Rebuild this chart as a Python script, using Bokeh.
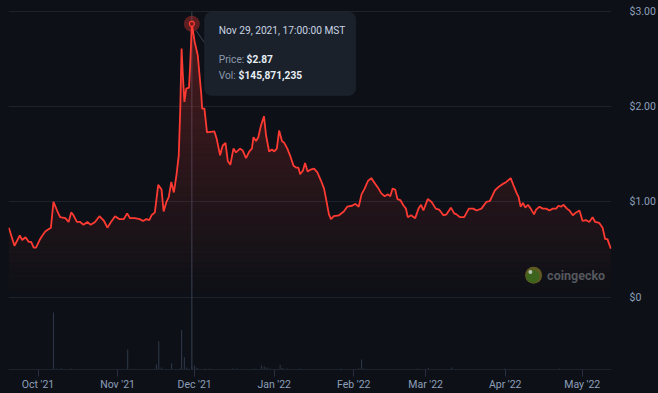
import numpy as np
import pandas as pd
from bokeh.plotting import figure
from bokeh.models import (Range1d, FixedTicker, DatetimeTickFormatter,
                          BoxAnnotation, Label)
from bokeh.embed import file_html
from bokeh.resources import INLINE

# ---------------- data ----------------
START = "2021-09-19 15:00"          # first daily close shown
price_days = [0, 2.2, 4.3, 5.2, 6.5, 7.8, 8.7, 9.7, 10.6, 12.0,
              12.9, 14.2, 15.9, 16.4, 17.4, 18.8, 20.0, 22.0, 23.3, 24.3,
              25.2, 26.5, 27.8, 29.1, 30.6, 31.9, 33.6, 35.3, 37.1, 38.4,
              39.8, 41.4, 43.0, 44.8, 46.1, 47.2, 49.1, 51.0, 52.3, 53.6,
              54.7, 55.6, 56.9, 58.2, 59.5, 60.3, 61.4, 62.3, 63.3, 64.3,
              65.3, 66.2, 66.8, 67.3, 67.8, 68.4, 69.1, 70.2, 70.7, 71.3,
              72.4, 73.6, 74.3, 75.0, 75.3, 76.2, 77.2, 80.1, 81.0, 82.3,
              83.3, 84.4, 85.3, 86.3, 87.5, 88.5, 90.1, 91.1, 92.4, 93.7,
              94.7, 95.3, 96.3, 97.2, 98.2, 99.4, 100.2, 101.4, 102.5, 103.4,
              104.4, 105.3, 106.4, 107.3, 108.5, 109.8, 110.9, 112.0, 112.8, 113.5,
              114.6, 115.4, 116.4, 117.6, 118.9, 120.2, 121.5, 122.8, 123.6, 124.7,
              125.5, 126.6, 128.6, 130.5, 131.8, 133.7, 135.0, 136.3, 137.4, 138.6,
              139.9, 141.2, 142.5, 143.8, 145.1, 146.4, 147.7, 148.6, 149.5, 150.5,
              151.4, 152.5, 153.8, 154.7, 155.4, 156.7, 158.3, 159.6, 160.6, 161.5,
              163.2, 164.7, 166.3, 167.6, 169.3, 170.5, 172.2, 173.5, 174.4, 175.7,
              177.4, 179.2, 180.9, 182.2, 184.1, 186.0, 187.4, 189.3, 190.9, 192.5,
              193.8, 195.5, 196.8, 197.7, 198.6, 199.4, 200.3, 201.2, 202.2, 203.3,
              204.6, 205.4, 206.7, 208.0, 209.3, 210.6, 211.9, 213.2, 214.1, 215.1,
              216.1, 217.4, 218.4, 219.7, 221.0, 222.3, 223.5, 224.8, 226.1, 227.4,
              228.4, 230.0, 231.3, 232.3, 233.2, 234.5]
prices = [0.73, 0.54, 0.65, 0.60, 0.63, 0.58, 0.58, 0.52, 0.52, 0.60,
          0.64, 0.69, 0.72, 0.73, 1.00, 0.91, 0.84, 0.83, 0.79, 0.89,
          0.86, 0.79, 0.79, 0.76, 0.79, 0.76, 0.79, 0.85, 0.80, 0.73,
          0.79, 0.85, 0.82, 0.82, 0.88, 0.83, 0.83, 0.82, 0.80, 0.82,
          0.81, 0.86, 0.89, 1.18, 1.13, 0.90, 1.00, 1.05, 1.21, 1.10,
          1.28, 1.49, 1.98, 2.61, 2.33, 2.05, 2.19, 2.20, 2.47, 2.87,
          2.68, 2.54, 2.33, 2.12, 1.98, 1.98, 1.73, 1.74, 1.66, 1.49,
          1.59, 1.62, 1.43, 1.39, 1.56, 1.52, 1.56, 1.54, 1.46, 1.53,
          1.56, 1.68, 1.64, 1.68, 1.80, 1.90, 1.70, 1.53, 1.55, 1.53,
          1.56, 1.75, 1.64, 1.62, 1.56, 1.47, 1.38, 1.36, 1.36, 1.29,
          1.33, 1.41, 1.32, 1.34, 1.35, 1.31, 1.23, 1.14, 1.03, 0.87,
          0.82, 0.85, 0.86, 0.90, 0.95, 0.96, 0.98, 0.95, 1.08, 1.14,
          1.22, 1.25, 1.20, 1.15, 1.09, 1.06, 1.08, 1.06, 1.14, 1.13,
          1.03, 1.02, 0.96, 0.93, 0.84, 0.86, 0.83, 0.93, 0.97, 0.91,
          1.03, 1.00, 0.93, 0.92, 0.86, 0.87, 0.94, 0.88, 0.87, 0.84,
          0.84, 0.93, 0.93, 0.91, 0.93, 1.00, 1.01, 1.12, 1.16, 1.19,
          1.21, 1.25, 1.16, 1.10, 1.05, 0.95, 0.99, 0.94, 0.97, 0.93,
          0.87, 0.92, 0.95, 0.93, 0.93, 0.91, 0.93, 0.93, 0.96, 0.95,
          0.97, 0.93, 0.91, 0.86, 0.89, 0.91, 0.80, 0.81, 0.79, 0.84,
          0.79, 0.78, 0.73, 0.61, 0.61, 0.51]
vol_days = [17.4, 18.5, 20.4, 24.3, 46.3, 57.5, 58.4, 59.5, 63.4,
            66.6, 67.3, 68.4, 69.3, 71.3, 72.4, 73.4, 76.5, 78.2,
            87.2, 88.8, 95.6, 98.4, 99.5, 100.5, 101.7, 105.7, 106.6,
            108.3, 113.4, 129.5, 136.3, 137.4, 138.3, 159.3, 163.4,
            172.5, 193.2, 214.5]
vol_musd = [2870, 50, 50, 50, 1000, 250, 1420, 100, 320,
            50, 1985, 620, 100, 146, 200, 75, 50, 50,
            50, 50, 50, 200, 150, 100, 50, 235, 75,
            50, 50, 50, 50, 500, 50, 50, 75,
            100, 50, 50]
month_ticks = ["2021-10-01", "2021-11-01", "2021-12-01", "2022-01-01",
               "2022-02-01", "2022-03-01", "2022-04-01", "2022-05-01"]
price_ticks = [0, 1, 2, 3]
price_tick_labels = ["$0", "$1.00", "$2.00", "$3.00"]
tooltip_date = "Nov 29, 2021, 17:00:00 MST"
tooltip_price = "$2.87"
tooltip_vol = "$145,871,235"

# ---------------- styling / geometry ----------------
BG = "#0d1117"
RED = "#ff3a33"
GRID = "#1d232c"
LABEL = "#8e9fba"
FONT = "Roboto"

W, H = 658, 393
BORDER_L, BORDER_R, BORDER_B = 8, 44, 22
FW, FH = W - BORDER_L - BORDER_R, H - BORDER_B
DAY = 86400000.0
start_ms = pd.Timestamp(START).value / 1e6
X0, X1 = start_ms - 0.12 * DAY, start_ms + 234.77 * DAY
PX_PER_DOLLAR = 95.77
Y1 = 3 + 11 / PX_PER_DOLLAR        # $3 line 11px below the frame top
Y0 = Y1 - FH / PX_PER_DOLLAR
VOL_TOP = max(vol_musd) * FH / 57.4


def dx(px):  # frame pixel -> data x
    return X0 + px / FW * (X1 - X0)


def dy(py):  # frame pixel (from top) -> data y
    return Y1 - py / FH * (Y1 - Y0)


x = start_ms + np.array(price_days) * DAY
y = np.array(prices)
xv = start_ms + np.array(vol_days) * DAY

p = figure(width=W, height=H, output_backend="svg", toolbar_location=None, tools="",
           x_axis_type="datetime", y_axis_location="right",
           x_range=Range1d(X0, X1), y_range=Range1d(Y0, Y1),
           min_border_left=BORDER_L, min_border_top=0,
           min_border_right=BORDER_R, min_border_bottom=BORDER_B,
           background_fill_color=None, border_fill_color=None)
p.styles = {"background-color": BG}
p.outline_line_color = None
p.extra_y_ranges = {"vol": Range1d(0, VOL_TOP)}

ipk = int(np.argmax(y))
px_, py_ = x[ipk], y[ipk]

# crosshair (hovered point), from the top gridline to the volume baseline
p.segment(x0=[px_], y0=[price_ticks[-1]], x1=[px_], y1=[Y0],
          line_color="#364051", line_width=1)

# gradient area (stacked bands)
step = 0.05
ymax = y.max()
for k in range(int(np.ceil(ymax / step))):
    lo, hi = k * step, (k + 1) * step
    a = 0.26 * ((lo + hi) / 2) / ymax
    p.varea(x=x, y1=np.minimum(y, lo), y2=np.minimum(y, hi),
            fill_color=RED, fill_alpha=a)

# volume bars
p.vbar(x=xv, top=vol_musd, width=0.45 * DAY, bottom=0, y_range_name="vol",
       fill_color="#2a3445", line_color=None)

# price line
p.line(x, y, line_color=RED, line_width=1.8)

# hover marker
p.scatter([px_], [py_], size=16, fill_color=RED, fill_alpha=0.33, line_color=None)
p.scatter([px_], [py_], size=5, fill_color="#6e1d1d", line_color=RED, line_width=1.2)

# tooltip
fx = (px_ - X0) / (X1 - X0) * FW
fy = (Y1 - py_) / (Y1 - Y0) * FH
p.segment(x0=[dx(fx + 4.5)], y0=[dy(fy + 7)], x1=[dx(fx + 12.7)], y1=[dy(fy + 19)],
          line_color="#3c4657", line_width=1)
p.add_layout(BoxAnnotation(left=dx(fx + 12.7), right=dx(fx + 164.7),
                           top=dy(fy - 12), bottom=dy(fy + 72),
                           fill_color="#1a212b", fill_alpha=1.0,
                           line_color="#252d39", line_width=1, border_radius=7))
tx = fx + 27
FS = "10.2px"
p.add_layout(Label(x=dx(tx), y=dy(fy + 6.7), text=tooltip_date, text_font=FONT,
                   text_font_size=FS, text_color="#c9d4e2", text_baseline="middle"))
p.add_layout(Label(x=dx(tx), y=dy(fy + 35.7), text="Price:", text_font=FONT,
                   text_font_size=FS, text_color="#8d9aae", text_baseline="middle"))
p.add_layout(Label(x=dx(tx + 28), y=dy(fy + 35.7), text=tooltip_price, text_font=FONT,
                   text_font_size=FS, text_font_style="bold", text_color="#e8eef5",
                   text_baseline="middle"))
p.add_layout(Label(x=dx(tx), y=dy(fy + 51.5), text="Vol:", text_font=FONT,
                   text_font_size=FS, text_color="#8d9aae", text_baseline="middle"))
p.add_layout(Label(x=dx(tx + 20), y=dy(fy + 51.5), text=tooltip_vol, text_font=FONT,
                   text_font_size=FS, text_font_style="bold", text_color="#e8eef5",
                   text_baseline="middle"))

# coingecko watermark
p.scatter([dx(527.7)], [dy(276.3)], size=17, fill_color="#5e5a22", line_color=None)
p.scatter([dx(527.0)], [dy(277.3)], size=13, fill_color="#3c641c", line_color=None)
p.scatter([dx(524.5)], [dy(273.0)], size=4, fill_color="#b9bfb0", line_color=None)
p.add_layout(Label(x=dx(541.3), y=dy(276.3), text="coingecko", text_font=FONT,
                   text_font_size="12.5px", text_font_style="bold", text_color="#55585e",
                   text_baseline="middle"))

# axes
p.xaxis.ticker = FixedTicker(ticks=[pd.Timestamp(t).value / 1e6 for t in month_ticks])
fmt = "%b '%y"
p.xaxis.formatter = DatetimeTickFormatter(milliseconds=fmt, seconds=fmt, minsec=fmt,
                                          minutes=fmt, hourmin=fmt, hours=fmt,
                                          days=fmt, months=fmt, years=fmt)
p.xaxis.axis_line_color = GRID
p.xaxis.major_tick_line_color = "#283040"
p.xaxis.major_tick_out = 7
p.xaxis.major_tick_in = 0
p.xaxis.minor_tick_line_color = None
p.xaxis.major_label_standoff = 1
p.xaxis.major_label_text_font = FONT
p.xaxis.major_label_text_font_size = "10.5px"
p.xaxis.major_label_text_color = LABEL

p.yaxis.ticker = FixedTicker(ticks=price_ticks)
p.yaxis.major_label_overrides = dict(zip(price_ticks, price_tick_labels))
p.yaxis.axis_line_color = None
p.yaxis.major_tick_line_color = None
p.yaxis.minor_tick_line_color = None
p.yaxis.major_label_standoff = 12
p.yaxis.major_label_text_font = FONT
p.yaxis.major_label_text_font_size = "10.5px"
p.yaxis.major_label_text_color = LABEL
p.yaxis.major_label_text_baseline = "bottom"

p.xgrid.grid_line_color = None
p.ygrid.ticker = FixedTicker(ticks=price_ticks)
p.ygrid.grid_line_color = GRID

open("out.html", "w").write(file_html(p, INLINE))
